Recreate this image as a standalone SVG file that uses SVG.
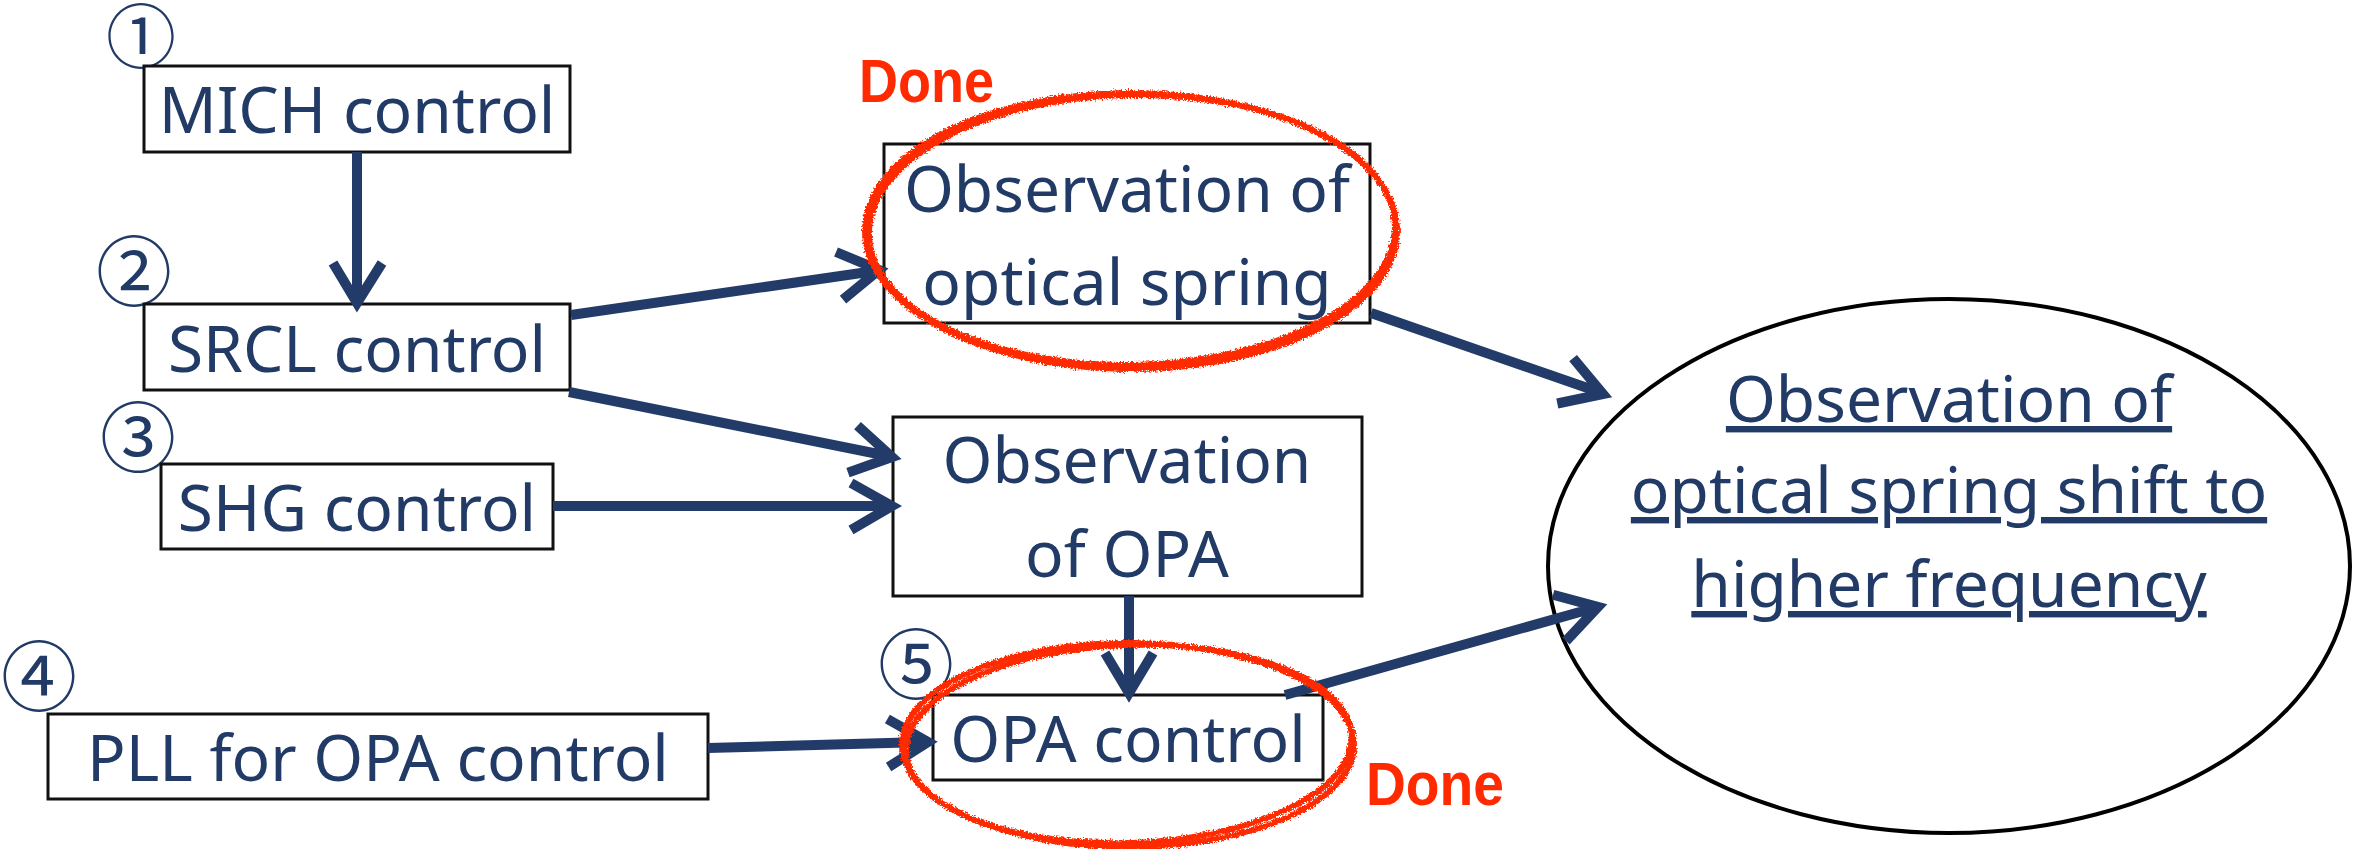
<svg xmlns="http://www.w3.org/2000/svg" width="2357" height="849" viewBox="0 0 2357 849">
  <style>
    .box { fill: #ffffff; stroke: #111111; stroke-width: 3; }
    .lbl { font-family: "Noto Sans", "Liberation Sans", sans-serif; font-size: 64px; fill: #213A66; text-anchor: middle; }
    .num { font-family: "Noto Sans CJK JP", "Noto Sans", sans-serif; font-size: 76px; fill: #213A66; text-anchor: middle; }
    .done { font-family: "Comic Sans MS", "Liberation Sans", sans-serif; font-weight: bold; font-size: 62px; fill: #FF2A00; }
    .arr { fill: none; stroke: #233B69; stroke-width: 10; stroke-linejoin: miter; stroke-linecap: butt; }
    .red { fill: none; stroke: #FF2A00; stroke-width: 6; }
  </style>
  <defs>
    <filter id="rough" x="-10%" y="-10%" width="120%" height="120%">
      <feTurbulence type="fractalNoise" baseFrequency="0.6" numOctaves="2" seed="3" result="n"/>
      <feDisplacementMap in="SourceGraphic" in2="n" scale="6" xChannelSelector="R" yChannelSelector="G"/>
    </filter>
  </defs>
  <rect width="2357" height="849" fill="#ffffff"/>

  <g id="n1">
    <text class="num" x="141" y="63" style="font-size:70px">①</text>
    <rect class="box" x="144" y="66" width="426" height="86"/>
    <text class="lbl" x="357" y="133">MICH control</text>
  </g>
  <g id="n2">
    <text class="num" x="134" y="300">②</text>
    <rect class="box" x="144" y="304" width="426" height="86"/>
    <text class="lbl" x="357" y="372">SRCL control</text>
  </g>
  <g id="n3">
    <text class="num" x="138" y="466">③</text>
    <rect class="box" x="161" y="464" width="392" height="85"/>
    <text class="lbl" x="357" y="531">SHG control</text>
  </g>
  <g id="n4">
    <text class="num" x="39" y="705">④</text>
    <rect class="box" x="48" y="714" width="660" height="85"/>
    <text class="lbl" x="378" y="781">PLL for OPA control</text>
  </g>
  <g id="obs-spring">
    <rect class="box" x="884" y="144" width="486" height="179"/>
    <text class="lbl" x="1127" y="212">Observation of</text>
    <text class="lbl" x="1127" y="305">optical spring</text>
  </g>
  <g id="obs-opa">
    <rect class="box" x="893" y="417" width="469" height="179"/>
    <text class="lbl" x="1127" y="483">Observation</text>
    <text class="lbl" x="1127" y="577">of OPA</text>
  </g>
  <g id="n5">
    <text class="num" x="916" y="693">⑤</text>
    <rect class="box" x="933" y="695" width="390" height="85"/>
    <text class="lbl" x="1128" y="762">OPA control</text>
  </g>
  <g id="goal">
    <ellipse cx="1949" cy="566" rx="401" ry="267" fill="#ffffff" stroke="#000000" stroke-width="4"/>
    <text class="lbl" x="1949" y="422" text-decoration="underline">Observation of</text>
    <text class="lbl" x="1949" y="513" text-decoration="underline">optical spring shift to</text>
    <text class="lbl" x="1949" y="607" text-decoration="underline">higher frequency</text>
  </g>

  <g id="connectors">
    <path class="arr" d="M357,152 L357,299 M333,263 L357,303 L382,263"/>
    <path class="arr" d="M571,315 L875,271 M843,299.6 L879,270 L836,252"/>
    <path class="arr" d="M569,392 L888,456 M848,472.6 L892,457 L857.5,425.6"/>
    <path class="arr" d="M553,506 L888,506 M851,483 L892,506 L851,530"/>
    <path class="arr" d="M708,748 L924,742 M888.6,767 L928,742 L887.4,719"/>
    <path class="arr" d="M1129,596 L1129,689 M1105,653 L1129,693 L1153,653"/>
    <path class="arr" d="M1371,313 L1599,392 M1557.3,403.5 L1603,394 L1573.1,358.1"/>
    <path class="arr" d="M1285,695 L1594,608 M1566,641 L1598,607 L1553,594.7"/>
  </g>

  <g id="done-marks">
    <g filter="url(#rough)">
      <ellipse class="red" cx="1131" cy="231" rx="266" ry="138"/>
      <ellipse class="red" cx="1132" cy="230" rx="263" ry="135" transform="rotate(-1 1131 231)"/>
      <ellipse class="red" cx="1128" cy="745" rx="226" ry="102"/>
      <ellipse class="red" cx="1129" cy="744" rx="223" ry="99" transform="rotate(-2 1128 745)"/>
    </g>
    <text class="done" x="859" y="102" textLength="135" lengthAdjust="spacingAndGlyphs">Done</text>
    <text class="done" x="1366" y="805" textLength="138" lengthAdjust="spacingAndGlyphs">Done</text>
  </g>
</svg>
